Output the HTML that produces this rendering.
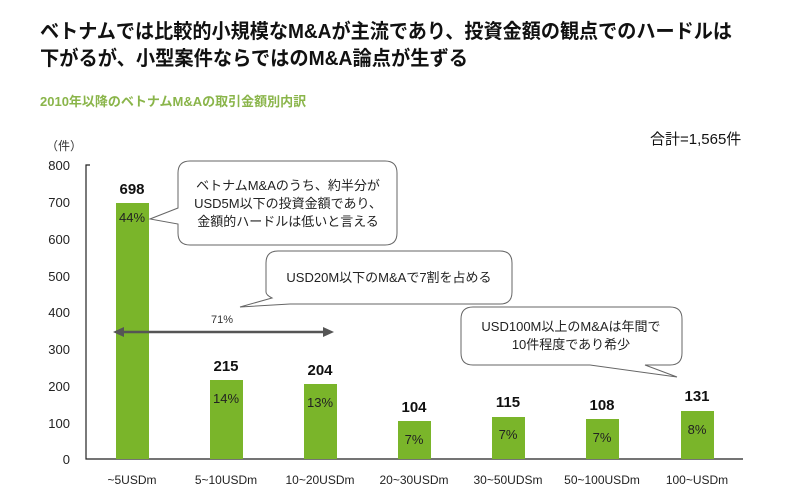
<!DOCTYPE html>
<html><head><meta charset="utf-8"><style>
body{margin:0;background:#fff;}
svg text{font-family:"Liberation Sans","Noto Sans CJK JP",sans-serif;}
</style></head><body>
<svg width="800" height="495" viewBox="0 0 800 495" xmlns="http://www.w3.org/2000/svg">
<rect width="800" height="495" fill="#fff"/>
<text x="40" y="38" font-size="20" font-weight="bold" fill="#111" textLength="692" lengthAdjust="spacingAndGlyphs">ベトナムでは比較的小規模なM&amp;Aが主流であり、投資金額の観点でのハードルは</text>
<text x="40" y="65" font-size="20" font-weight="bold" fill="#111" textLength="428" lengthAdjust="spacingAndGlyphs">下がるが、小型案件ならではのM&amp;A論点が生ずる</text>
<text x="40" y="106" font-size="13" font-weight="bold" fill="#8ab54a">2010年以降のベトナムM&amp;Aの取引金額別内訳</text>
<text x="650" y="144" font-size="15" fill="#111">合計=1,565件</text>
<text x="46" y="150" font-size="12" fill="#333">（件）</text>
<g font-size="13" fill="#222" text-anchor="end">
<text x="70" y="170">800</text><text x="70" y="207">700</text><text x="70" y="244">600</text>
<text x="70" y="281">500</text><text x="70" y="317">400</text><text x="70" y="354">300</text>
<text x="70" y="391">200</text><text x="70" y="428">100</text><text x="70" y="464">0</text>
</g>
<path d="M90 165 H86 V459 H743" fill="none" stroke="#222" stroke-width="1.2"/>
<g fill="#7ab52a">
<rect x="116" y="203" width="33" height="256"/>
<rect x="210" y="380" width="33" height="79"/>
<rect x="304" y="384" width="33" height="75"/>
<rect x="398" y="421" width="33" height="38"/>
<rect x="492" y="417" width="33" height="42"/>
<rect x="586" y="419" width="33" height="40"/>
<rect x="681" y="411" width="33" height="48"/>
</g>
<g font-size="15" font-weight="bold" fill="#111" text-anchor="middle">
<text x="132" y="194">698</text><text x="226" y="371">215</text><text x="320" y="375">204</text>
<text x="414" y="412">104</text><text x="508" y="407">115</text><text x="602" y="410">108</text><text x="697" y="401">131</text>
</g>
<g font-size="13" fill="#222" text-anchor="middle">
<text x="132" y="222">44%</text><text x="226" y="403">14%</text><text x="320" y="407">13%</text>
<text x="414" y="444">7%</text><text x="508" y="439">7%</text><text x="602" y="442">7%</text><text x="697" y="434">8%</text>
</g>
<g font-size="12" fill="#222" text-anchor="middle">
<text x="132" y="484">~5USDm</text><text x="226" y="484">5~10USDm</text><text x="320" y="484">10~20USDm</text>
<text x="414" y="484">20~30USDm</text><text x="508" y="484">30~50UDSm</text><text x="602" y="484">50~100USDm</text><text x="697" y="484">100~USDm</text>
</g>
<line x1="122" y1="332" x2="326" y2="332" stroke="#555" stroke-width="2.5"/>
<polygon points="113,332 124,327 124,337" fill="#555"/>
<polygon points="334,332 323,327 323,337" fill="#555"/>
<text x="222" y="323" font-size="11" fill="#333" text-anchor="middle">71%</text>
<g fill="#fff" stroke="#666" stroke-width="1">
<path d="M190 161 H385 Q397 161 397 173 V233 Q397 245 385 245 H190 Q178 245 178 233 V224 L150 219 L178 208 V173 Q178 161 190 161 Z"/>
<path d="M278 251 H500 Q512 251 512 263 V292 Q512 304 500 304 H290 L240 307 L272 298 Q266 295 266 292 V263 Q266 251 278 251 Z"/>
<path d="M473 307 H670 Q682 307 682 319 V353 Q682 365 670 365 H645 L677 377 L590 365 H473 Q461 365 461 353 V319 Q461 307 473 307 Z"/>
</g>
<g font-size="13" fill="#222" text-anchor="middle">
<text x="288" y="190">ベトナムM&amp;Aのうち、約半分が</text>
<text x="288" y="208">USD5M以下の投資金額であり、</text>
<text x="288" y="226">金額的ハードルは低いと言える</text>
<text x="389" y="282">USD20M以下のM&amp;Aで7割を占める</text>
<text x="571" y="331">USD100M以上のM&amp;Aは年間で</text>
<text x="571" y="349">10件程度であり希少</text>
</g>
</svg>
</body></html>
